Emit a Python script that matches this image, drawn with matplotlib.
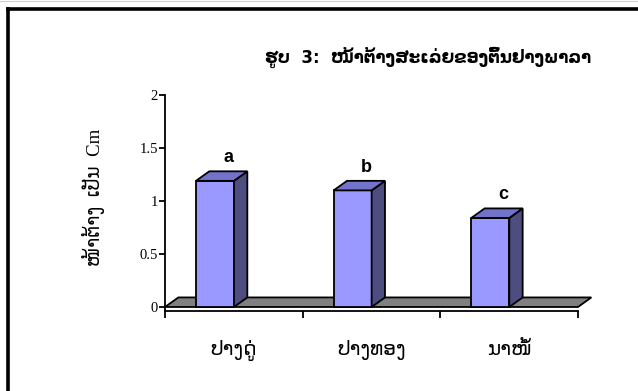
import matplotlib
matplotlib.use("Agg")
import matplotlib.pyplot as plt
from matplotlib.patches import Polygon
from matplotlib.lines import Line2D

# Data
categories = ["ປາງດູ່", "ປາງທອງ", "ນາໜໍ້"]
values = [1.19, 1.10, 0.84]
letters = ["a", "b", "c"]
yticks = [0, 0.5, 1, 1.5, 2]
ytick_labels = ["0", "0.5", "1", "1.5", "2"]
title = "ຮູບ  3:  ໜ້າຕ້າງສະເລ່ຍຂອງຕົ້ນຢາງພາລາ"
ylabel = "ໜ້າຕ້າງ  ເປັນ  Cm"

lao = ["DejaVu Sans"]
serif = ["Liberation Serif", "DejaVu Sans"]

W, H = 638, 391
fig = plt.figure(figsize=(W / 100, H / 100), dpi=100)
ax = fig.add_axes([165 / W, (H - 311) / H, (578 - 165) / W, (311 - 95) / H])

n = len(categories)
ax.set_xlim(0, n)
ax.set_ylim(-0.038, 2)

# 3D look: depth offsets in data units
dx, dy = 0.097, 0.09
bar_off, bar_w = 0.225, 0.276

# floor
floor = Polygon([(0, 0), (n, 0), (n + dx, dy), (dx, dy)], closed=True,
                facecolor="#808080", edgecolor="black", lw=1.3, clip_on=False, zorder=1)
ax.add_patch(floor)

for i, (v, lab) in enumerate(zip(values, letters)):
    x0 = i + bar_off
    x1 = x0 + bar_w
    front = Polygon([(x0, 0), (x1, 0), (x1, v), (x0, v)], closed=True,
                    facecolor="#9999FF", edgecolor="black", lw=1.3, clip_on=False, zorder=3)
    side = Polygon([(x1, 0), (x1 + dx, dy), (x1 + dx, v + dy), (x1, v)], closed=True,
                   facecolor="#4D4D80", edgecolor="black", lw=1.3, clip_on=False, zorder=3)
    top = Polygon([(x0, v), (x1, v), (x1 + dx, v + dy), (x0 + dx, v + dy)], closed=True,
                  facecolor="#7373CC", edgecolor="black", lw=1.3, clip_on=False, zorder=3)
    for p in (front, side, top):
        ax.add_patch(p)
    ax.text(x0 + bar_w / 2 + dx, v + dy + 0.085, lab, ha="center", va="baseline",
            fontsize=13, fontweight="bold", family=["Liberation Sans"])

# axes styling
for s in ("top", "right"):
    ax.spines[s].set_visible(False)
ax.spines["left"].set_linewidth(1.3)
ax.spines["bottom"].set_linewidth(1.3)
ax.spines["left"].set_bounds(-0.038, 2)

ax.set_yticks(yticks)
ax.set_yticklabels(ytick_labels, family=serif, fontsize=10.5)
ax.tick_params(axis="y", direction="out", length=4, width=1.3, pad=1)

ax.set_xticks(range(n + 1))
ax.set_xticklabels([])
ax.tick_params(axis="x", which="major", direction="out", length=5, width=1.3)
ax.set_xticks([i + 0.5 for i in range(n)], minor=True)
ax.set_xticklabels(categories, minor=True, family=lao, fontsize=14.5)
ax.tick_params(axis="x", which="minor", length=0, pad=21)

fig.text(428 / W, 1 - 57 / H, title, ha="center", va="center",
         fontsize=12, fontweight="bold", family=lao)
fig.text(93 / W, 1 - 197 / H, ylabel, ha="center", va="center", rotation=90,
         fontsize=13.5, family=serif)

# outer frame (only top and left visible)
fig.add_artist(Line2D([8 / W, 1], [1 - 8.8 / H, 1 - 8.8 / H], color="black", lw=2.6,
                      transform=fig.transFigure))
fig.add_artist(Line2D([8 / W, 8 / W], [0, 1 - 8.8 / H], color="black", lw=2.6,
                      transform=fig.transFigure))
fig.add_artist(Line2D([0, 1], [1 - 0.5 / H, 1 - 0.5 / H], color="#d0d0d0", lw=0.8,
                      transform=fig.transFigure))

fig.savefig("out.png", dpi=100)
